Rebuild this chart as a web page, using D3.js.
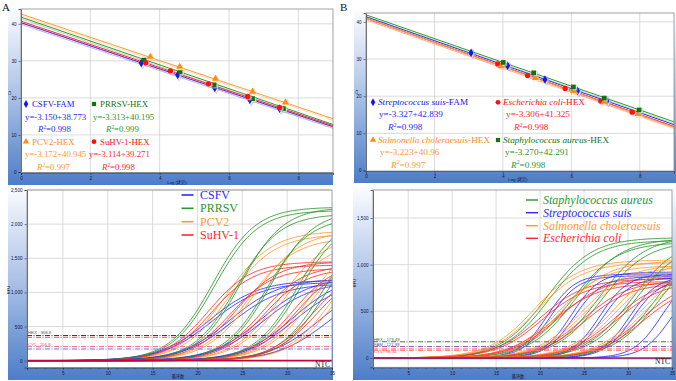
<!DOCTYPE html>
<html><head><meta charset="utf-8">
<script src="https://cdnjs.cloudflare.com/ajax/libs/d3/7.8.5/d3.min.js"></script>
<style>html,body{margin:0;padding:0;background:#fff;} svg{display:block;}</style>
</head><body>
<svg id="chart" width="676" height="381"></svg>
<script>
// ================= DATA =================
// ---- Panel A, standard curves (x = log copies, y = Ct) ----
const seriesA = ["CSFV", "PRRSV", "PCV2", "SuHV-1"];
const stdLogA_CSFV  = [3.47, 4.52, 5.59, 6.60, 7.46];
const stdCtA_CSFV   = [29.4, 26.2, 22.7, 19.5, 17.1];
const stdLogA_PRRSV = [3.55, 4.59, 5.57, 6.68, 7.57];
const stdCtA_PRRSV  = [30.2, 27.0, 23.5, 19.8, 17.1];
const stdLogA_PCV2  = [3.73, 4.58, 5.61, 6.68, 7.63];
const stdCtA_PCV2   = [31.1, 28.4, 25.2, 21.7, 18.8];
const stdLogA_SuHV  = [3.60, 4.31, 5.41, 6.54, 7.46];
const stdCtA_SuHV   = [29.5, 27.3, 23.8, 20.4, 17.4];
const fitSlopeA     = [-3.12, -3.22, -3.14, -3.13];
const fitInterceptA = [40.3, 41.8, 42.65, 40.7];
const legNameA = ["CSFV-FAM", "PRRSV-HEX", "PCV2-HEX", "SuHV-1-HEX"];
const legEqA   = ["y=-3.150+38.773", "y=-3.313+40.195", "y=-3.172+40.945", "y=-3.114+39.271"];
const legR2A   = ["0.998", "0.999", "0.997", "0.998"];
const xTicksStd = [0, 2, 4, 6, 8];
const yTicksStd = [0, 10, 20, 30, 40];

// ---- Panel A, amplification curves (cycle where curve passes 300 RFU, plateau RFU) ----
const ampCtA_CSFV   = [18.3, 18.7, 20.6, 21.0, 24.0, 24.4, 27.4, 27.8, 30.6, 31.6];
const ampTopA_CSFV  = [1180, 1150, 1200, 1130, 1220, 1160, 1250, 1180, 1200, 1100];
const ampCtA_PRRSV  = [17.2, 17.5, 20.0, 20.3, 23.4, 23.7, 26.8, 27.1, 29.7, 30.1];
const ampTopA_PRRSV = [2250, 2200, 2150, 2250, 2100, 2200, 2150, 2100, 2000, 1900];
const ampCtA_PCV2   = [18.8, 19.2, 21.5, 21.9, 25.0, 25.4, 28.3, 28.7, 31.0, 31.4];
const ampTopA_PCV2  = [1900, 1850, 1800, 1900, 1850, 1750, 1900, 1800, 1850, 1750];
const ampCtA_SuHV   = [18.0, 18.4, 20.6, 21.0, 24.0, 24.4, 27.4, 27.8, 29.8, 30.2];
const ampTopA_SuHV  = [1450, 1400, 1350, 1450, 1400, 1350, 1450, 1400, 1400, 1350];
const ampSteepA     = [2.8, 2.4, 2.6, 2.4];
const thrValA  = [368.8, 343, 206.8, 171];
const thrTextA = ["HEX : 368.8", "", "CY5 : 206.8", ""];
const legCurveA = ["CSFV", "PRRSV", "PCV2", "SuHV-1"];
const yTicksAmpA = [0, 500, 1000, 1500, 2000, 2500];
const xTicksAmp  = [5, 10, 15, 20, 25, 30, 35];

// ---- Panel B, standard curves ----
const stdLogB_Ssuis = [3.07, 4.14, 5.23, 6.18, 7.04];
const stdCtB_Ssuis  = [31.7, 28.2, 24.5, 21.4, 18.7];
const stdLogB_Ecoli = [3.85, 4.72, 5.82, 6.86, 7.78];
const stdCtB_Ecoli  = [28.7, 25.6, 22.1, 18.7, 15.7];
const stdLogB_Schol = [3.95, 4.95, 6.06, 6.96, 7.96];
const stdCtB_Schol  = [28.1, 24.9, 21.4, 18.5, 15.2];
const stdLogB_Saur  = [4.01, 4.90, 6.06, 6.96, 7.98];
const stdCtB_Saur   = [29.1, 26.3, 22.5, 19.5, 16.3];
const fitSlopeB     = [-3.23, -3.24, -3.26, -3.20];
const fitInterceptB = [41.4, 41.0, 41.0, 41.9];
const legItalB = ["Streptococcus suis", "Escherichia coli", "Salmonella choleraesuis", "Staphylococcus aureus"];
const legTagB  = ["-FAM", "-HEX", "-HEX", "-HEX"];
const legEqB   = ["y=-3.327+42.839", "y=-3.306+41.325", "y=-3.223+40.96", "y=-3.270+42.291"];
const legR2B   = ["0.998", "0.998", "0.997", "0.998"];

// ---- Panel B, amplification curves (cycle where curve passes 200 RFU, plateau RFU) ----
const ampCtB_Ssuis  = [18.8, 19.2, 21.5, 21.9, 24.8, 25.2, 28.2, 28.6, 31.8, 33.0];
const ampTopB_Ssuis = [900, 880, 920, 870, 900, 860, 880, 850, 900, 850];
const ampCtB_Ecoli  = [16.9, 17.3, 18.6, 19.0, 21.9, 22.3, 25.4, 25.8, 28.5, 28.9];
const ampTopB_Ecoli = [850, 820, 800, 860, 830, 800, 850, 820, 840, 800];
const ampCtB_Schol  = [15.6, 16.0, 18.5, 18.9, 21.2, 21.6, 24.7, 25.1, 27.9, 28.3];
const ampTopB_Schol = [1050, 1020, 990, 1040, 1000, 980, 1050, 1000, 1030, 990];
const ampCtB_Saur   = [16.3, 16.7, 19.3, 19.7, 22.3, 22.7, 26.1, 26.5, 28.9, 29.3];
const ampTopB_Saur  = [1290, 1260, 1240, 1280, 1300, 1250, 1280, 1240, 1300, 1260];
const ampSteepB     = [1.6, 2.6, 2.6, 2.6];
const thrValB  = [173.49, 121.98, 96.54, 80];
const thrTextB = ["HEX : 173.49", "FAM : 121.98", "CY5 : 96.54", ""];
const legCurveB = ["Staphylococcus aureus", "Streptococcus suis", "Salmonella choleraesuis", "Escherichia coli"];
const yTicksAmpB = [0, 500, 1000, 1500];

// ================= STYLE =================
const SERIF = "'Liberation Serif','Times New Roman',serif";
const SANS = "'Liberation Sans',Arial,'Noto Sans CJK SC',sans-serif";
const cBlue = "#2b2bff", cGreen = "#2e962e", cOrange = "#ff9a2e", cRed = "#ff2a2a";
const mBlue = "#1515ee", mGreen = "#127212", mOrange = "#ff8c1a", mRed = "#ff1010";

// ================= DRAWING =================
const svg = d3.select("#chart");
const defs = svg.append("defs");
const gr = defs.append("linearGradient").attr("id", "bgGrad").attr("x1", 0).attr("y1", 0).attr("x2", 0).attr("y2", 1);
gr.append("stop").attr("offset", "0%").attr("stop-color", "#fbfcfe");
gr.append("stop").attr("offset", "50%").attr("stop-color", "#a8c0e6");
gr.append("stop").attr("offset", "100%").attr("stop-color", "#4d7dc8");

function frame(bg, pl, id) {
  svg.append("rect").attr("x", bg[0]).attr("y", bg[1]).attr("width", bg[2] - bg[0]).attr("height", bg[3] - bg[1]).attr("fill", "url(#bgGrad)");
  svg.append("rect").attr("x", pl[0]).attr("y", pl[1]).attr("width", pl[2] - pl[0]).attr("height", pl[3] - pl[1]).attr("fill", "#fff");
  defs.append("clipPath").attr("id", id).append("rect").attr("x", pl[0]).attr("y", pl[1]).attr("width", pl[2] - pl[0]).attr("height", pl[3] - pl[1]);
}
function grid(x, y, xv, yv, pl) {
  const g = svg.append("g");
  g.selectAll(".gv").data(xv).join("line").attr("x1", d => x(d)).attr("x2", d => x(d)).attr("y1", pl[1]).attr("y2", pl[3]).attr("stroke", "#d2d2d2").attr("stroke-width", 0.8);
  g.selectAll(".gh").data(yv).join("line").attr("y1", d => y(d)).attr("y2", d => y(d)).attr("x1", pl[0]).attr("x2", pl[2]).attr("stroke", "#d2d2d2").attr("stroke-width", 0.8);
}
function axes(x, y, xv, yv, pl, yfmt, minorX) {
  const ya = svg.append("g").attr("transform", `translate(${pl[0]},0)`).call(d3.axisLeft(y).tickValues(yv).tickSize(2.5).tickPadding(2).tickFormat(yfmt));
  const xa = svg.append("g").attr("transform", `translate(0,${pl[3]})`).call(d3.axisBottom(x).tickValues(xv).tickSize(2.5).tickPadding(1.5));
  if (minorX) {
    svg.append("g").attr("transform", `translate(0,${pl[3]})`).call(d3.axisBottom(x).tickValues(minorX).tickSize(1.5).tickFormat(""))
      .call(a => { a.select(".domain").remove(); a.selectAll("line").attr("stroke", "#333").attr("stroke-width", 0.5); });
  }
  [ya, xa].forEach(a => {
    a.selectAll("text").attr("font-family", SANS).attr("font-size", 4.6).attr("fill", "#15153a");
    a.select(".domain").attr("stroke", "#333").attr("stroke-width", 0.8);
    a.selectAll(".tick line").attr("stroke", "#333").attr("stroke-width", 0.6);
  });
}
function border(pl) {
  svg.append("rect").attr("x", pl[0]).attr("y", pl[1]).attr("width", pl[2] - pl[0]).attr("height", pl[3] - pl[1]).attr("fill", "none").attr("stroke", "#8c8c8c").attr("stroke-width", 0.8);
}
function tiny(x, y, t, rot) {
  const e = svg.append("text").attr("x", x).attr("y", y).attr("font-family", SANS).attr("font-size", 4.2).attr("fill", "#15153a").attr("text-anchor", "middle").text(t);
  if (rot) e.attr("transform", `rotate(-90,${x},${y})`);
}

// ---------- Standard-curve panels ----------
function stdPanel(bg, pl, id, yMax, xsArr, ysArr, slopes, intercepts, lineCols, markCols, symbols) {
  frame(bg, pl, id);
  const x = d3.scaleLinear().domain([0, 9]).range([pl[0], pl[2]]);
  const y = d3.scaleLinear().domain([0, yMax]).range([pl[3] - 0.5, pl[1]]);
  grid(x, y, xTicksStd.slice(1), yTicksStd.slice(1), pl);
  const g = svg.append("g").attr("clip-path", `url(#${id})`);
  slopes.forEach((s, i) => {
    const pts = [0, 9].map(v => [v, intercepts[i] + s * v]);
    const ln = d3.line().x(d => x(d[0])).y(d => y(d[1]));
    g.append("path").attr("d", ln(pts)).attr("fill", "none").attr("stroke", lineCols[i]).attr("stroke-width", 1).attr("opacity", 0.35).attr("transform", "translate(0,1.6)");
    g.append("path").attr("d", ln(pts)).attr("fill", "none").attr("stroke", lineCols[i]).attr("stroke-width", 1);
  });
  xsArr.forEach((xs, i) => {
    xs.forEach((v, j) => {
      const px = x(v), py = y(ysArr[i][j]);
      g.append("path").attr("d", d3.symbol(symbols[i], 24)()).attr("transform", `translate(${px + 1.5},${py + 1.2})`).attr("fill", "#fff").attr("stroke", lineCols[i]).attr("stroke-width", 0.4).attr("opacity", 0.6);
      g.append("path").attr("d", d3.symbol(symbols[i], 22)()).attr("transform", `translate(${px},${py})`).attr("fill", markCols[i]);
    });
  });
  axes(x, y, xTicksStd, yTicksStd, pl, d3.format("d"), null);
  border(pl);
}

function ampPanel(bg, pl, id, yMin, yMax, yTicks, cts, tops, steep, ref, cols, thrV, thrCols, thrTxt, thrTxtCols, thrTxtDy, ntcCols) {
  frame(bg, pl, id);
  const x = d3.scaleLinear().domain([1, 35]).range([pl[0], pl[2]]);
  const y = d3.scaleLinear().domain([yMin, yMax]).range([pl[3], pl[1]]);
  grid(x, y, xTicksAmp.slice(0, -1), yTicks.slice(1), pl);
  const g = svg.append("g").attr("clip-path", `url(#${id})`);
  const cyc = d3.range(1, 35.001, 0.2);
  const ln = d3.line().x(d => x(d[0])).y(d => y(d[1]));
  const n = cts[0].length;
  for (let j = 0; j < n; j++) {
    cts.forEach((arr, i) => {
      const top = tops[i][j], k = steep[i];
      const m = arr[j] + k * Math.log(top / ref - 1);
      const pts = cyc.map(c => [c, top / (1 + Math.exp(-(c - m) / k))]);
      g.append("path").attr("d", ln(pts)).attr("fill", "none").attr("stroke", cols[i]).attr("stroke-width", 0.85);
    });
  }
  thrV.forEach((v, i) => {
    g.append("line").attr("x1", pl[0]).attr("x2", pl[2]).attr("y1", y(v)).attr("y2", y(v)).attr("stroke", thrCols[i]).attr("stroke-width", 0.9).attr("stroke-dasharray", "5,1.5,1,1.5");
    if (thrTxt[i]) g.append("text").attr("x", pl[0] + 1).attr("y", y(v) + thrTxtDy[i]).attr("font-family", SANS).attr("font-size", 4.3).attr("fill", thrTxtCols[i]).text(thrTxt[i]);
  });
  ntcCols.forEach((c, i) => {
    g.append("line").attr("x1", pl[0]).attr("x2", pl[2]).attr("y1", y(0) + i * 0.8).attr("y2", y(0) + i * 0.8).attr("stroke", c).attr("stroke-width", i === 0 ? 1.6 : 0.8);
  });
  g.append("text").attr("x", pl[2] - 2).attr("y", y(0) + 6.5).attr("text-anchor", "end").attr("font-family", SERIF).attr("font-size", 7.5).attr("fill", "#111").text("NTC");
  axes(x, y, xTicksAmp, yTicks, pl, d3.format(","), d3.range(2, 35, 1));
  border(pl);
  return { x, y };
}

// ===== Panel A top =====
const plAT = [21, 9, 333, 172.5];
stdPanel([8, 9, 333, 185], plAT, "cAT", 44,
  [stdLogA_CSFV, stdLogA_PRRSV, stdLogA_PCV2, stdLogA_SuHV],
  [stdCtA_CSFV, stdCtA_PRRSV, stdCtA_PCV2, stdCtA_SuHV],
  fitSlopeA, fitInterceptA, [cBlue, cGreen, cOrange, cRed], [mBlue, mGreen, mOrange, mRed],
  [d3.symbolDiamond, d3.symbolSquare, d3.symbolTriangle, d3.symbolCircle]);
tiny(177, 184, "Log (拷贝)");
tiny(11, 93, "Ct", true);

// Legend A top
(function () {
  const colsT = [mBlue, mGreen, mOrange, mRed];
  const colsE = [cBlue, cGreen, cOrange, cRed];
  const syms = [d3.symbolDiamond, d3.symbolSquare, d3.symbolTriangle, d3.symbolCircle];
  const mx = [26, 94, 26, 94], ry = [104, 104, 141.7, 141.7];
  const ex = [25, 93, 25, 89], rx = [38, 106, 37, 102];
  const fs = 8.8;
  legNameA.forEach((nm, i) => {
    svg.append("path").attr("d", d3.symbol(syms[i], 18)()).attr("transform", `translate(${mx[i]},${ry[i]})`).attr("fill", colsT[i]);
    svg.append("text").attr("x", mx[i] + 6).attr("y", ry[i] + 3).attr("font-family", SERIF).attr("font-size", fs).attr("fill", colsT[i]).text(nm);
    svg.append("text").attr("x", ex[i]).attr("y", ry[i] + 15.7).attr("font-family", SERIF).attr("font-size", fs).attr("fill", colsE[i]).text(legEqA[i]);
    const t = svg.append("text").attr("x", rx[i]).attr("y", ry[i] + 28).attr("font-family", SERIF).attr("font-size", fs).attr("fill", colsE[i]);
    t.append("tspan").attr("font-style", "italic").text("R");
    t.append("tspan").attr("font-size", fs * 0.62).attr("dy", -3).text("2");
    t.append("tspan").attr("dy", 3).text("=" + legR2A[i]);
  });
})();

// ===== Panel A bottom =====
const plAB = [27, 190, 332, 367.5];
ampPanel([8, 187, 333, 380], plAB, "cAB", -100, 2500, yTicksAmpA,
  [ampCtA_CSFV, ampCtA_PCV2, ampCtA_PRRSV, ampCtA_SuHV],
  [ampTopA_CSFV, ampTopA_PCV2, ampTopA_PRRSV, ampTopA_SuHV],
  [ampSteepA[0], ampSteepA[2], ampSteepA[1], ampSteepA[3]], 300,
  [cBlue, cOrange, cGreen, cRed],
  thrValA, ["#222", "#ff3030", "#ff5c7c", "#5a5aff"], thrTextA, ["#555", "#555", "#e0507a", "#555"], [-1, -1, -1, -1],
  ["#c8003c"]);
tiny(178, 378, "循环数");
tiny(10, 290, "RFU", true);
// legend A bottom
(function () {
  const cols = [cBlue, cGreen, cOrange, cRed];
  const ys = [195, 208.3, 221.7, 235];
  legCurveA.forEach((nm, i) => {
    svg.append("line").attr("x1", 181.5).attr("x2", 193.5).attr("y1", ys[i]).attr("y2", ys[i]).attr("stroke", cols[i]).attr("stroke-width", 1.6);
    svg.append("text").attr("x", 200).attr("y", ys[i] + 4).attr("font-family", SERIF).attr("font-size", 12).attr("fill", cols[i]).text(nm);
  });
})();

// ===== Panel B top =====
const plBT = [366, 13, 674, 171];
stdPanel([354, 11, 676, 183], plBT, "cBT", 42.4,
  [stdLogB_Ssuis, stdLogB_Ecoli, stdLogB_Schol, stdLogB_Saur],
  [stdCtB_Ssuis, stdCtB_Ecoli, stdCtB_Schol, stdCtB_Saur],
  fitSlopeB, fitInterceptB, [cBlue, cRed, cOrange, cGreen], [mBlue, mRed, mOrange, mGreen],
  [d3.symbolDiamond, d3.symbolCircle, d3.symbolTriangle, d3.symbolSquare]);
tiny(518, 181, "Log (拷贝)");
tiny(358, 92, "Ct", true);
(function () {
  const colsT = [mBlue, mRed, mOrange, mGreen];
  const colsE = [cBlue, cRed, cOrange, cGreen];
  const syms = [d3.symbolDiamond, d3.symbolCircle, d3.symbolTriangle, d3.symbolSquare];
  const mx = [373, 498, 373, 498], ry = [102.3, 102.3, 140, 140];
  const ex = [379, 506, 380, 505], rx = [388, 514, 391, 511];
  const fs = 9.2;
  legItalB.forEach((nm, i) => {
    svg.append("path").attr("d", d3.symbol(syms[i], 18)()).attr("transform", `translate(${mx[i]},${ry[i]})`).attr("fill", colsT[i]);
    const tt = svg.append("text").attr("x", mx[i] + 5).attr("y", ry[i] + 3).attr("font-family", SERIF).attr("font-size", fs).attr("fill", colsT[i]);
    tt.append("tspan").attr("font-style", "italic").text(nm);
    tt.append("tspan").text(legTagB[i]);
    svg.append("text").attr("x", ex[i]).attr("y", ry[i] + 15).attr("font-family", SERIF).attr("font-size", fs).attr("fill", colsE[i]).text(legEqB[i]);
    const t = svg.append("text").attr("x", rx[i]).attr("y", ry[i] + 27.5).attr("font-family", SERIF).attr("font-size", fs).attr("fill", colsE[i]);
    t.append("tspan").attr("font-style", "italic").text("R");
    t.append("tspan").attr("font-size", fs * 0.62).attr("dy", -3.2).text("2");
    t.append("tspan").attr("dy", 3.2).text("=" + legR2B[i]);
  });
})();

// ===== Panel B bottom =====
const plBB = [373, 190, 672, 367.3];
ampPanel([353, 187, 676, 380], plBB, "cBB", -100, 1800, yTicksAmpB,
  [ampCtB_Saur, ampCtB_Ssuis, ampCtB_Schol, ampCtB_Ecoli],
  [ampTopB_Saur, ampTopB_Ssuis, ampTopB_Schol, ampTopB_Ecoli],
  [ampSteepB[3], ampSteepB[0], ampSteepB[2], ampSteepB[1]], 200,
  [cGreen, cBlue, cOrange, cRed],
  thrValB, ["#2f6a2f", "#7a3fb0", "#ff3a3a", "#ff7a7a"], thrTextB, ["#2f6a2f", "#7a3fb0", "#ff3a3a", "#555"], [-0.8, -0.5, 3.8, 0],
  ["#d01030", "#6a2a8a"]);
tiny(518, 378, "循环数");
tiny(356, 283, "RFU", true);
(function () {
  const cols = [cGreen, cBlue, cOrange, cRed];
  const ys = [200, 212.7, 225.7, 238.3];
  legCurveB.forEach((nm, i) => {
    svg.append("line").attr("x1", 526).attr("x2", 538).attr("y1", ys[i]).attr("y2", ys[i]).attr("stroke", cols[i]).attr("stroke-width", 1.4);
    svg.append("text").attr("x", 543).attr("y", ys[i] + 4).attr("font-family", SERIF).attr("font-style", "italic").attr("font-size", 12).attr("fill", cols[i]).text(nm);
  });
})();

// panel letters
svg.append("text").attr("x", 2).attr("y", 11).attr("font-family", SERIF).attr("font-size", 11).attr("fill", "#111").text("A");
svg.append("text").attr("x", 340).attr("y", 11).attr("font-family", SERIF).attr("font-size", 11).attr("fill", "#111").text("B");
</script>
</body></html>
